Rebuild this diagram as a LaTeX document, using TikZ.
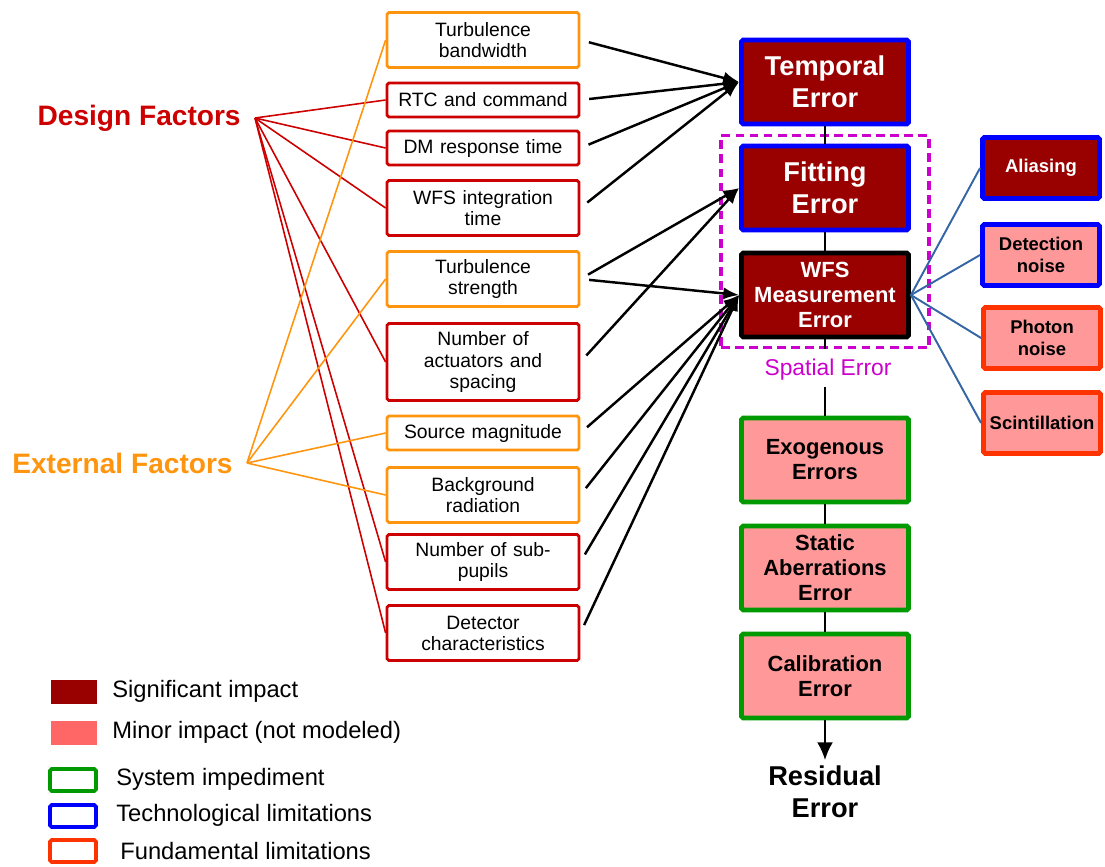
\documentclass[tikz,border=0pt]{standalone}
\usepackage{fontspec}
\setmainfont{Liberation Sans}
\usepackage{tikz}
\usetikzlibrary{arrows.meta,arrows}
\usetikzlibrary{fit}

\definecolor{sigred}{RGB}{153,0,0}
\definecolor{minpink}{RGB}{255,153,153}
\definecolor{minlegend}{RGB}{255,102,102}
\definecolor{dsgnred}{RGB}{204,0,0}
\definecolor{extorange}{RGB}{255,149,14}
\definecolor{sysgreen}{RGB}{0,153,0}
\definecolor{techblue}{RGB}{0,0,255}
\definecolor{fundred}{RGB}{255,51,0}
\definecolor{spatmag}{RGB}{204,0,204}
\definecolor{steel}{RGB}{52,101,164}

\begin{document}
\begin{tikzpicture}
[x=0.02cm, y=-0.02cm,
design/.style ={rectangle, draw=dsgnred, line width=1.6pt, fill=white,
rounded corners=1pt, text width=3.75cm, align=center, minimum width=3.84cm,
font=\fontsize{11}{12}\selectfont, inner sep=1pt},
extern/.style ={design, draw=extorange},
bigerr/.style ={rectangle, line width=2.8pt, rounded corners=1pt,
minimum width=3.34cm, minimum height=1.68cm, align=center, inner sep=2pt},
sigerr/.style ={bigerr, fill=sigred, text=white},
minerr/.style ={bigerr, fill=minpink, draw=sysgreen,
font=\bfseries\fontsize{12.5}{14.2}\selectfont},
smallerr/.style ={rectangle, line width=2.8pt, rounded corners=1pt,
minimum width=2.34cm, minimum height=1.22cm, align=center,
font=\bfseries\fontsize{10.5}{12.5}\selectfont},
factorlbl/.style ={anchor=east, inner xsep=0.28cm,
font=\bfseries\fontsize{16}{19}\selectfont},
line/.style ={draw, line width=1.4pt, -{Latex[length=9pt,width=7pt]},
shorten <=5pt},
link/.style ={draw, line width=0.9pt},
legtext/.style ={anchor=west, inner sep=0pt,
font=\fontsize{13.5}{16}\selectfont}]
\useasboundingbox (0,0) rectangle (1105,866);

% factor labels
\node [factorlbl, text=dsgnred]   (dfac) at (255,118) {Design Factors};
\node [factorlbl, text=extorange] (efac) at (247,463) {External Factors};

% left column of factors
\node [extern, minimum height=1.1cm]  (turbbw) at (483,40)  {Turbulence\\bandwidth};
\node [design, minimum height=0.68cm] (rtc)    at (483,100) {RTC and command};
\node [design, minimum height=0.68cm] (dm)     at (483,148) {DM response time};
\node [design, minimum height=1.1cm]  (wfsint) at (483,208) {WFS integration\\time};
\node [extern, minimum height=1.1cm]  (turbst) at (483,279) {Turbulence\\strength};
\node [design, minimum height=1.54cm] (act)    at (483,362) {Number of\\actuators and\\spacing};
\node [extern, minimum height=0.68cm] (srcmag) at (483,433) {Source magnitude};
\node [extern, minimum height=1.1cm]  (bkg)    at (483,495) {Background\\radiation};
\node [design, minimum height=1.1cm]  (subap)  at (483,562) {Number of sub-\\pupils};
\node [design, minimum height=1.1cm]  (detch)  at (483,633) {Detector\\characteristics};

% error column
\node [sigerr, draw=techblue, font=\bfseries\fontsize{15.5}{18}\selectfont]
      (temporal) at (825,82)  {Temporal\\Error};
\node [sigerr, draw=techblue, font=\bfseries\fontsize{15.5}{18}\selectfont]
      (fitting)  at (825,188) {Fitting\\Error};
\node [sigerr, draw=black, font=\bfseries\fontsize{12.5}{14.2}\selectfont]
      (wfsm)     at (825,295) {WFS\\Measurement\\Error};
\node [draw=spatmag, line width=1.8pt, dash pattern=on 5pt off 3pt,
       inner xsep=0.36cm, inner ysep=0.16cm, fit=(fitting)(wfsm)] (spatial) {};
\node [text=spatmag, font=\fontsize{13}{15}\selectfont] (spatlbl) at (828,370) {Spatial Error};
\node [minerr] (exo)    at (825,460) {Exogenous\\Errors};
\node [minerr] (static) at (825,568) {Static\\Aberrations\\Error};
\node [minerr] (calib)  at (825,676) {Calibration\\Error};
\node [font=\bfseries\fontsize{15.5}{18}\selectfont, align=center] (resid) at (825,792) {Residual\\Error};

% WFS error terms
\node [smallerr, draw=techblue, fill=sigred, text=white] (alias)  at (1041,168) {Aliasing};
\node [smallerr, draw=techblue, fill=minpink] (detnoise) at (1041,255) {Detection\\noise};
\node [smallerr, draw=fundred, fill=minpink]  (photon)   at (1042,338) {Photon\\noise};
\node [smallerr, draw=fundred, fill=minpink]  (scint)    at (1042,423) {Scintillation};

% legend
\node [rectangle, fill=sigred, minimum width=0.94cm, minimum height=0.48cm, inner sep=0pt] (legsig) at (74,692) {};
\node [rectangle, fill=minlegend, minimum width=0.94cm, minimum height=0.48cm, inner sep=0pt] (legmin) at (74,733) {};
\node [rectangle, draw=sysgreen, line width=2.2pt, rounded corners=1pt, minimum width=0.92cm, minimum height=0.44cm, inner sep=0pt] (legsys) at (73,780) {};
\node [rectangle, draw=techblue, line width=2.2pt, rounded corners=1pt, minimum width=0.92cm, minimum height=0.44cm, inner sep=0pt] (legtech) at (73,816) {};
\node [rectangle, draw=fundred, line width=2.2pt, rounded corners=1pt, minimum width=0.92cm, minimum height=0.44cm, inner sep=0pt] (legfund) at (73,851) {};
\node [legtext] (legsigtxt)  at (112,691) {Significant impact};
\node [legtext] (legmintxt)  at (112,732) {Minor impact (not modeled)};
\node [legtext] (legsystxt)  at (116,779) {System impediment};
\node [legtext] (legtechtxt) at (116,815) {Technological limitations};
\node [legtext] (legfundtxt) at (120,851) {Fundamental limitations};

% factor links
\begin{scope}[every path/.style={link, draw=dsgnred}]
\path (dfac.east) -- (rtc.west);
\path (dfac.east) -- (dm.west);
\path (dfac.east) -- (wfsint.west);
\path (dfac.east) -- (act.west);
\path (dfac.east) -- (subap.west);
\path (dfac.east) -- (detch.west);
\end{scope}
\begin{scope}[every path/.style={link, draw=extorange}]
\path (efac.east) -- (turbbw.west);
\path (efac.east) -- (turbst.west);
\path (efac.east) -- (srcmag.west);
\path (efac.east) -- (bkg.west);
\end{scope}

% arrows into the error terms
\begin{scope}[every path/.style=line]
\path (turbbw.east) -- (temporal.west);
\path (rtc.east)    -- (temporal.west);
\path (dm.east)     -- (temporal.west);
\path (wfsint.east) -- (temporal.west);
\path (turbst.east) -- (fitting.west);
\path (turbst.east) -- (wfsm.west);
\path (act.east)    -- (fitting.west);
\path (srcmag.east) -- (wfsm.west);
\path (bkg.east)    -- (wfsm.west);
\path (subap.east)  -- (wfsm.west);
\path (detch.east)  -- (wfsm.west);
\end{scope}

% error budget chain
\begin{scope}[every path/.style={draw, line width=1.1pt}]
\path (temporal) -- (fitting);
\path (fitting) -- (wfsm);
\path (wfsm.south) -- (spatial.south);
\path (spatlbl.south -| exo.north) -- (exo.north);
\path (exo) -- (static);
\path (static) -- (calib);
\path [-{Latex[length=10pt,width=9pt]}] (calib.south) -- (resid.north);
\end{scope}

% WFS measurement split
\begin{scope}[every path/.style={draw=steel, line width=1.1pt}]
\path (wfsm.east) -- (alias.west);
\path (wfsm.east) -- (detnoise.west);
\path (wfsm.east) -- (photon.west);
\path (wfsm.east) -- (scint.west);
\end{scope}
\end{tikzpicture}
\end{document}
